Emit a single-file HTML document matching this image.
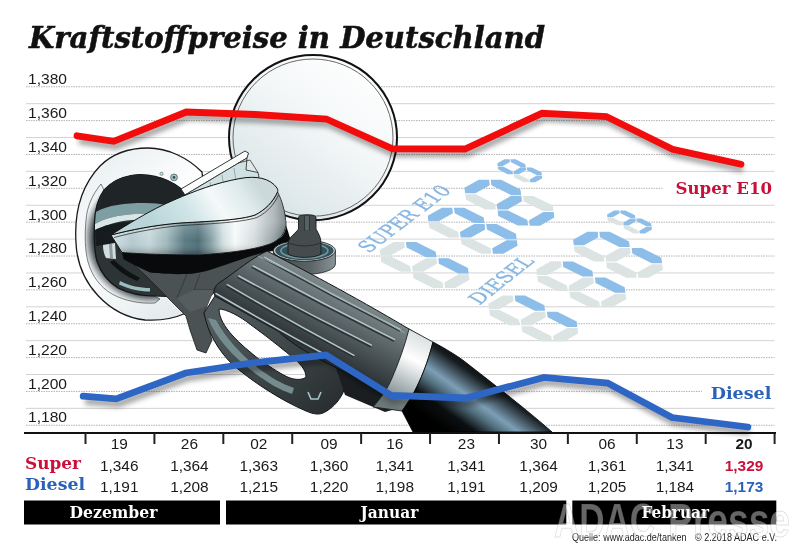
<!DOCTYPE html>
<html><head><meta charset="utf-8"><title>Kraftstoffpreise in Deutschland</title>
<style>
html,body{margin:0;padding:0;background:#fff;}
body{width:800px;height:555px;overflow:hidden;position:relative;}
svg{position:absolute;left:0;top:0;}
.num{font-family:"Liberation Sans",sans-serif;font-size:15.4px;fill:#1a1a1a;}
.slab{font-family:"DejaVu Serif","Liberation Serif",serif;font-weight:bold;}
</style></head><body>
<svg width="800" height="555" viewBox="0 0 800 555">
<defs>
<filter id="sh" x="-10%" y="-50%" width="120%" height="200%"><feGaussianBlur stdDeviation="2.5"/></filter>
</defs>
<rect width="800" height="555" fill="#fff"/>
<text x="29" y="48" font-family="DejaVu Serif, Liberation Serif, serif" font-weight="bold" font-style="italic" font-size="29" fill="#111" stroke="#111" stroke-width="0.55" textLength="516" lengthAdjust="spacingAndGlyphs">Kraftstoffpreise in Deutschland</text>
<g stroke="#c6c6c6" stroke-width="1">
<line x1="26" y1="86.76" x2="774.5" y2="86.76" stroke="#b3b3b3" stroke-dasharray="1.5,1"/>
<line x1="26" y1="103.69" x2="774.5" y2="103.69" stroke="#d3d3d3"/>
<line x1="26" y1="120.61" x2="774.5" y2="120.61" stroke="#b3b3b3" stroke-dasharray="1.5,1"/>
<line x1="26" y1="137.54" x2="774.5" y2="137.54" stroke="#d3d3d3"/>
<line x1="26" y1="154.46" x2="774.5" y2="154.46" stroke="#b3b3b3" stroke-dasharray="1.5,1"/>
<line x1="26" y1="171.39" x2="774.5" y2="171.39" stroke="#d3d3d3"/>
<line x1="26" y1="188.32" x2="774.5" y2="188.32" stroke="#b3b3b3" stroke-dasharray="1.5,1"/>
<line x1="26" y1="205.24" x2="774.5" y2="205.24" stroke="#d3d3d3"/>
<line x1="26" y1="222.17" x2="774.5" y2="222.17" stroke="#b3b3b3" stroke-dasharray="1.5,1"/>
<line x1="26" y1="239.09" x2="774.5" y2="239.09" stroke="#d3d3d3"/>
<line x1="26" y1="256.02" x2="774.5" y2="256.02" stroke="#b3b3b3" stroke-dasharray="1.5,1"/>
<line x1="26" y1="272.95" x2="774.5" y2="272.95" stroke="#d3d3d3"/>
<line x1="26" y1="289.87" x2="774.5" y2="289.87" stroke="#b3b3b3" stroke-dasharray="1.5,1"/>
<line x1="26" y1="306.8" x2="774.5" y2="306.8" stroke="#d3d3d3"/>
<line x1="26" y1="323.72" x2="774.5" y2="323.72" stroke="#b3b3b3" stroke-dasharray="1.5,1"/>
<line x1="26" y1="340.65" x2="774.5" y2="340.65" stroke="#d3d3d3"/>
<line x1="26" y1="357.58" x2="774.5" y2="357.58" stroke="#b3b3b3" stroke-dasharray="1.5,1"/>
<line x1="26" y1="374.5" x2="774.5" y2="374.5" stroke="#d3d3d3"/>
<line x1="26" y1="391.43" x2="774.5" y2="391.43" stroke="#b3b3b3" stroke-dasharray="1.5,1"/>
<line x1="26" y1="408.35" x2="774.5" y2="408.35" stroke="#d3d3d3"/>
<line x1="26" y1="425.28" x2="774.5" y2="425.28" stroke="#b3b3b3" stroke-dasharray="1.5,1"/>
</g>
<g class="num">
<text x="28" y="84.3" textLength="39" lengthAdjust="spacingAndGlyphs">1,380</text>
<text x="28" y="118.1" textLength="39" lengthAdjust="spacingAndGlyphs">1,360</text>
<text x="28" y="151.9" textLength="39" lengthAdjust="spacingAndGlyphs">1,340</text>
<text x="28" y="185.7" textLength="39" lengthAdjust="spacingAndGlyphs">1,320</text>
<text x="28" y="219.5" textLength="39" lengthAdjust="spacingAndGlyphs">1,300</text>
<text x="28" y="253.3" textLength="39" lengthAdjust="spacingAndGlyphs">1,280</text>
<text x="28" y="287.1" textLength="39" lengthAdjust="spacingAndGlyphs">1,260</text>
<text x="28" y="320.9" textLength="39" lengthAdjust="spacingAndGlyphs">1,240</text>
<text x="28" y="354.7" textLength="39" lengthAdjust="spacingAndGlyphs">1,220</text>
<text x="28" y="388.5" textLength="39" lengthAdjust="spacingAndGlyphs">1,200</text>
<text x="28" y="422.3" textLength="39" lengthAdjust="spacingAndGlyphs">1,180</text>
</g>
<rect x="663" y="178" width="113" height="21" fill="#fff"/><text class="slab" x="675.5" y="194.3" font-size="17" fill="#c8103a" textLength="96.5" lengthAdjust="spacingAndGlyphs">Super E10</text><rect x="702" y="381" width="74" height="21" fill="#fff"/><text class="slab" x="710.7" y="398.8" font-size="17" fill="#2a62b8" textLength="60.7" lengthAdjust="spacingAndGlyphs">Diesel</text>
<g id="illu">
<polygon points="380.36,255.56 379.7,250.06 393.92,241.94 404.24,241.94 404.9,247.44 390.68,255.56" fill="#dbe4e3"/>
<polygon points="412.66,271.76 412,266.26 426.22,258.14 436.54,258.13 437.2,263.64 422.98,271.76" fill="#dbe4e3"/>
<polygon points="444.96,287.96 444.3,282.46 458.52,274.34 468.84,274.33 469.5,279.84 455.28,287.96" fill="#dbe4e3"/>
<polygon points="380.57,256.49 390.89,256.49 410.27,266.2 410.93,271.71 400.61,271.71 381.23,262" fill="#dbe4e3"/>
<polygon points="405.97,241.99 416.29,241.99 435.67,251.71 436.33,257.21 426.01,257.21 406.63,247.5" fill="#8dbde9"/>
<polygon points="412.87,272.69 423.19,272.69 442.57,282.41 443.23,287.91 432.91,287.92 413.53,278.19" fill="#dbe4e3"/>
<polygon points="438.27,258.19 448.59,258.19 467.97,267.91 468.63,273.41 458.31,273.42 438.93,263.69" fill="#8dbde9"/>
<polygon points="428.36,221.37 427.7,215.86 441.92,207.74 452.24,207.74 452.9,213.24 438.68,221.36" fill="#8dbde9"/>
<polygon points="460.66,237.56 460,232.06 474.22,223.94 484.54,223.94 485.2,229.44 470.98,237.56" fill="#8dbde9"/>
<polygon points="492.96,253.77 492.3,248.26 506.52,240.14 516.84,240.14 517.5,245.64 503.28,253.76" fill="#8dbde9"/>
<polygon points="428.57,222.29 438.89,222.29 458.27,232.01 458.93,237.51 448.61,237.52 429.23,227.8" fill="#dbe4e3"/>
<polygon points="453.97,207.79 464.29,207.79 483.67,217.51 484.33,223.01 474.01,223.02 454.63,213.3" fill="#8dbde9"/>
<polygon points="460.87,238.49 471.19,238.49 490.57,248.21 491.23,253.71 480.91,253.72 461.53,244" fill="#dbe4e3"/>
<polygon points="486.27,223.99 496.59,223.99 515.97,233.71 516.63,239.21 506.31,239.22 486.93,229.5" fill="#8dbde9"/>
<polygon points="465.16,193.26 464.5,187.76 478.72,179.64 489.04,179.63 489.7,185.14 475.48,193.26" fill="#8dbde9"/>
<polygon points="497.46,209.46 496.8,203.96 511.02,195.84 521.34,195.83 522,201.34 507.78,209.46" fill="#8dbde9"/>
<polygon points="529.76,225.66 529.1,220.16 543.32,212.04 553.64,212.03 554.3,217.54 540.08,225.66" fill="#8dbde9"/>
<polygon points="465.37,194.19 475.69,194.19 495.07,203.91 495.73,209.41 485.41,209.41 466.03,199.69" fill="#dbe4e3"/>
<polygon points="490.77,179.69 501.09,179.69 520.47,189.41 521.13,194.91 510.81,194.91 491.43,185.19" fill="#8dbde9"/>
<polygon points="497.67,210.39 507.99,210.38 527.37,220.1 528.03,225.61 517.71,225.61 498.33,215.89" fill="#8dbde9"/>
<polygon points="523.07,195.89 533.39,195.88 552.77,205.6 553.43,211.11 543.11,211.11 523.73,201.39" fill="#dbe4e3"/>
<polygon points="497.68,166.08 497.35,163.33 504.46,159.27 509.62,159.27 509.95,162.02 502.84,166.08" fill="#8dbde9"/>
<polygon points="513.83,174.18 513.5,171.43 520.61,167.37 525.77,167.37 526.1,170.12 518.99,174.18" fill="#8dbde9"/>
<polygon points="529.98,182.28 529.65,179.53 536.76,175.47 541.92,175.47 542.25,178.22 535.14,182.28" fill="#8dbde9"/>
<polygon points="497.78,166.54 502.94,166.54 512.63,171.4 512.97,174.16 507.81,174.16 498.12,169.3" fill="#8dbde9"/>
<polygon points="510.48,159.29 515.64,159.29 525.33,164.15 525.67,166.91 520.51,166.91 510.82,162.05" fill="#8dbde9"/>
<polygon points="513.93,174.64 519.09,174.64 528.78,179.5 529.12,182.26 523.96,182.26 514.27,177.4" fill="#dbe4e3"/>
<polygon points="526.63,167.39 531.79,167.39 541.48,172.25 541.82,175.01 536.66,175.01 526.97,170.15" fill="#8dbde9"/>
<polygon points="489.06,309.17 488.4,303.66 502.62,295.54 512.94,295.54 513.6,301.04 499.38,309.16" fill="#dbe4e3"/>
<polygon points="521.36,325.37 520.7,319.86 534.92,311.74 545.24,311.74 545.9,317.24 531.68,325.36" fill="#dbe4e3"/>
<polygon points="553.66,341.56 553,336.06 567.22,327.94 577.54,327.94 578.2,333.44 563.98,341.56" fill="#dbe4e3"/>
<polygon points="489.27,310.09 499.59,310.09 518.97,319.81 519.63,325.31 509.31,325.31 489.93,315.6" fill="#dbe4e3"/>
<polygon points="514.67,295.59 524.99,295.59 544.37,305.31 545.03,310.81 534.71,310.81 515.33,301.1" fill="#8dbde9"/>
<polygon points="521.57,326.29 531.89,326.29 551.27,336.01 551.93,341.51 541.61,341.52 522.23,331.8" fill="#dbe4e3"/>
<polygon points="546.97,311.79 557.29,311.79 576.67,321.51 577.33,327.01 567.01,327.02 547.63,317.3" fill="#8dbde9"/>
<polygon points="537.06,274.96 536.4,269.46 550.62,261.34 560.94,261.33 561.6,266.84 547.38,274.96" fill="#dbe4e3"/>
<polygon points="569.36,291.16 568.7,285.66 582.92,277.54 593.24,277.53 593.9,283.04 579.68,291.16" fill="#dbe4e3"/>
<polygon points="601.66,307.36 601,301.86 615.22,293.74 625.54,293.73 626.2,299.24 611.98,307.36" fill="#dbe4e3"/>
<polygon points="537.27,275.89 547.59,275.88 566.97,285.6 567.63,291.11 557.31,291.11 537.93,281.39" fill="#dbe4e3"/>
<polygon points="562.67,261.39 572.99,261.38 592.37,271.1 593.03,276.61 582.71,276.61 563.33,266.89" fill="#8dbde9"/>
<polygon points="569.57,292.09 579.89,292.08 599.27,301.81 599.93,307.31 589.61,307.31 570.23,297.59" fill="#dbe4e3"/>
<polygon points="594.97,277.59 605.29,277.58 624.67,287.31 625.33,292.81 615.01,292.81 595.63,283.09" fill="#8dbde9"/>
<polygon points="573.76,245.37 573.1,239.86 587.32,231.74 597.64,231.74 598.3,237.24 584.08,245.36" fill="#8dbde9"/>
<polygon points="606.06,261.56 605.4,256.06 619.62,247.94 629.94,247.94 630.6,253.44 616.38,261.56" fill="#dbe4e3"/>
<polygon points="638.36,277.76 637.7,272.26 651.92,264.14 662.24,264.13 662.9,269.64 648.68,277.76" fill="#dbe4e3"/>
<polygon points="573.97,246.29 584.29,246.29 603.67,256 604.33,261.51 594.01,261.51 574.63,251.8" fill="#dbe4e3"/>
<polygon points="599.37,231.79 609.69,231.79 629.07,241.51 629.73,247.01 619.41,247.02 600.03,237.3" fill="#8dbde9"/>
<polygon points="606.27,262.49 616.59,262.49 635.97,272.21 636.63,277.71 626.31,277.72 606.93,268" fill="#dbe4e3"/>
<polygon points="631.67,247.99 641.99,247.99 661.37,257.71 662.03,263.21 651.71,263.22 632.33,253.5" fill="#8dbde9"/>
<polygon points="607.38,217.28 607.05,214.53 614.16,210.47 619.32,210.47 619.65,213.22 612.54,217.28" fill="#8dbde9"/>
<polygon points="623.53,225.38 623.2,222.63 630.31,218.57 635.47,218.57 635.8,221.32 628.69,225.38" fill="#8dbde9"/>
<polygon points="639.68,233.48 639.35,230.73 646.46,226.67 651.62,226.67 651.95,229.42 644.84,233.48" fill="#8dbde9"/>
<polygon points="607.48,217.74 612.64,217.74 622.33,222.6 622.67,225.36 617.51,225.36 607.82,220.5" fill="#dbe4e3"/>
<polygon points="620.18,210.49 625.34,210.49 635.03,215.35 635.37,218.11 630.21,218.11 620.52,213.25" fill="#8dbde9"/>
<polygon points="623.63,225.84 628.79,225.84 638.48,230.7 638.82,233.46 633.66,233.46 623.97,228.6" fill="#dbe4e3"/>
<polygon points="636.33,218.59 641.49,218.59 651.18,223.45 651.52,226.21 646.36,226.21 636.67,221.35" fill="#8dbde9"/>
<text transform="matrix(0.8 -0.6 0.87 0.49 369 253.5)" font-family="DejaVu Serif, Liberation Serif, serif" font-size="21" fill="#86b6e2" stroke="#86b6e2" stroke-width="0.35" textLength="104" lengthAdjust="spacingAndGlyphs">SUPER E10</text>
<text transform="matrix(0.785 -0.619 0.87 0.49 479.5 305.5)" font-family="DejaVu Serif, Liberation Serif, serif" font-size="20.5" fill="#86b6e2" stroke="#86b6e2" stroke-width="0.35" textLength="71" lengthAdjust="spacingAndGlyphs">DIESEL</text>
<defs>
<linearGradient id="gDoor" x1="0.85" y1="0.05" x2="0.15" y2="0.95">
<stop offset="0" stop-color="#ffffff"/><stop offset="0.4" stop-color="#f4f7f8"/><stop offset="1" stop-color="#d6e2e5"/></linearGradient>
<linearGradient id="gRing" x1="0.2" y1="0" x2="0.8" y2="1">
<stop offset="0" stop-color="#e9eff1"/><stop offset="0.45" stop-color="#ffffff"/><stop offset="1" stop-color="#dfe8ea"/></linearGradient>
<linearGradient id="gBand" gradientUnits="userSpaceOnUse" x1="111" y1="0" x2="286" y2="0"><stop offset="0" stop-color="#d3e3e6"/><stop offset="0.12" stop-color="#b4cacf"/><stop offset="0.22" stop-color="#c6d8db"/><stop offset="0.32" stop-color="#9fb8bd"/><stop offset="0.42" stop-color="#5b7b84"/><stop offset="0.5" stop-color="#4e6e77"/><stop offset="0.57" stop-color="#86a0a6"/><stop offset="0.64" stop-color="#d2dfe1"/><stop offset="0.71" stop-color="#f6f9f9"/><stop offset="0.82" stop-color="#d5dcde"/><stop offset="0.93" stop-color="#97a3a6"/><stop offset="1" stop-color="#5a666a"/></linearGradient>
<linearGradient id="gBandV" gradientUnits="userSpaceOnUse" x1="0" y1="222" x2="0" y2="253">
<stop offset="0" stop-color="#fff" stop-opacity="0.25"/><stop offset="0.6" stop-color="#fff" stop-opacity="0"/><stop offset="1" stop-color="#000" stop-opacity="0.22"/></linearGradient>
<linearGradient id="gTop" gradientUnits="userSpaceOnUse" x1="160" y1="235" x2="250" y2="175">
<stop offset="0" stop-color="#b9d5d9"/><stop offset="0.35" stop-color="#d1e5e8"/><stop offset="0.6" stop-color="#f4f9f9"/><stop offset="0.85" stop-color="#deeaec"/><stop offset="1" stop-color="#cbd9db"/></linearGradient>
<linearGradient id="gGrip" gradientUnits="userSpaceOnUse" x1="300" y1="268" x2="270" y2="325">
<stop offset="0" stop-color="#7e898b"/><stop offset="0.3" stop-color="#667173"/><stop offset="0.65" stop-color="#4a5355"/><stop offset="1" stop-color="#30373a"/></linearGradient>
<linearGradient id="gHose" gradientUnits="userSpaceOnUse" x1="478" y1="352" x2="430" y2="420">
<stop offset="0" stop-color="#000"/><stop offset="0.25" stop-color="#161b1e"/><stop offset="0.5" stop-color="#7d9fb6"/><stop offset="0.62" stop-color="#53707f"/><stop offset="0.8" stop-color="#0c0f11"/><stop offset="1" stop-color="#000"/></linearGradient>
<linearGradient id="gCollar" gradientUnits="userSpaceOnUse" x1="425" y1="335" x2="390" y2="405">
<stop offset="0" stop-color="#d8dede"/><stop offset="0.35" stop-color="#ffffff"/><stop offset="0.7" stop-color="#aab6b8"/><stop offset="1" stop-color="#6b7779"/></linearGradient>
<linearGradient id="gGuard" gradientUnits="userSpaceOnUse" x1="230" y1="310" x2="320" y2="415">
<stop offset="0" stop-color="#505a5c"/><stop offset="1" stop-color="#2a3032"/></linearGradient>
<radialGradient id="gRim" gradientUnits="userSpaceOnUse" cx="150" cy="238" r="67">
<stop offset="0.84" stop-color="#3a4042"/><stop offset="0.9" stop-color="#80878a"/><stop offset="0.96" stop-color="#c9cfd1"/><stop offset="1" stop-color="#eef2f2"/></radialGradient>
<linearGradient id="gWasher" gradientUnits="userSpaceOnUse" x1="272" y1="0" x2="337" y2="0"><stop offset="0" stop-color="#3f4749"/><stop offset="0.6" stop-color="#5b6466"/><stop offset="1" stop-color="#8d989a"/></linearGradient>
</defs>
<!-- fuel door -->
<ellipse cx="313" cy="137.6" rx="84" ry="82.6" fill="url(#gDoor)" stroke="#111" stroke-width="2"/>
<ellipse cx="313" cy="137.6" rx="80" ry="78.6" fill="none" stroke="#444" stroke-width="0.8"/>
<!-- filler ring -->
<path d="M76,243 C74,212 82,185 100,166 C113,153 130,148 148,148 C168,148 188,158 202,172 L215,290 C200,310 175,322 145,320 C110,316 78,285 76,243 Z" fill="url(#gRing)" stroke="#1a1a1a" stroke-width="1.3"/>
<path d="M101,184 C92,195 87,207 86,220 C84.5,236 85,250 88,262 C92,276 100,287 112,294 C125,301 140,304 155,303 L160,299 L155,296 C142,296 130,294 118,288 C108,282 101,273 97,261 C94,250 94,236 94.5,222 C95,210 97,200 104,190 Z" fill="url(#gRim)" stroke="#2a2f30" stroke-width="0.6"/>
<path d="M104,190 C112,181 122,177 131,175.5 C145,173 165,176 180,188 C190,196 200,201 210,205 L212,288 C195,296 172,297 155,296 C142,296 130,294 118,288 C108,282 101,273 97,261 C94,250 94,236 94.5,222 C95,210 97,200 104,190 Z" fill="#2d3436" stroke="#121516" stroke-width="1.2"/>
<path d="M104,190 C112,181 122,177 131,175.5 C145,173 165,176 180,188 C190,196 200,201 210,205 L210,216 C195,208 170,203 145,203 C125,203 108,205 96,212 Z" fill="#1f2527"/>
<path d="M96,212 C108,205 125,203 145,203 C160,203 175,206 185,210 L185,218 C170,214 150,213 135,214 C118,215 105,218 95,224 Z" fill="#7d9ea3"/>
<path d="M95,224 C105,218 118,215 135,214 C150,213 165,215 175,218 L172,222 C160,219 145,219 132,220 C118,221 106,225 95,230 Z" fill="#d8e6e8"/>
<path d="M95,230 C105,225 118,222 130,222 L125,240 L115,243 L96,246 Z" fill="#161b1d"/>
<path d="M103,245 L115,243 L116,259 L106,258 C104,254 103,250 103,245 Z" fill="#d3dde0"/>
<path d="M109,244 L112,244 L113,258 L110,258 Z" fill="#8a9ea2"/>
<path d="M110,262 C117,270 127,277 137,281 L140,278 C130,273 121,267 114,260 Z" fill="#0e1213"/>
<path d="M120,281 C130,286 140,288 150,288 L150,291.5 C139,291.5 129,289 119,284.5 Z" fill="#9dbcc0"/>
<circle cx="161.5" cy="173.8" r="1.6" fill="#cfe0e2" stroke="#4a5a5c" stroke-width="0.6"/>
<circle cx="174" cy="177.4" r="3.4" fill="#a9c6cc" stroke="#3a5054" stroke-width="0.7"/>
<circle cx="174" cy="177.4" r="1.3" fill="#2f4a50"/>
<!-- hinge bracket -->
<path d="M181,189 L245,151 L248.5,153 L247,158 L185,195 Z" fill="#fbfdfd" stroke="#222" stroke-width="0.9"/>
<path d="M185,195 L247,158 L246,170 L258,172.5 L259,177 L252,180 L189,206 Z" fill="#cfe1e3" stroke="#222" stroke-width="0.8"/>
<path d="M238,163 L250,160 L258,172.5" fill="none" stroke="#222" stroke-width="0.7"/>
<g stroke="#6f8587" stroke-width="0.6"><line x1="197" y1="190" x2="199" y2="200"/><line x1="210" y1="182" x2="212" y2="193"/><line x1="222" y1="175" x2="224" y2="187"/><line x1="234" y1="168" x2="236" y2="181"/></g>
<!-- nozzle body (dark, under hood) -->
<path d="M118,250 L290,238 L296,250 L267,251 L226,279 L211,296 L204,313 L212,340 L206,353 L197,350 L190,330 L186,316 L146,276 Z" fill="#4b5254" stroke="#1a1a1a" stroke-width="0.8"/>
<path d="M187,274 L177,298 M200,274 L194,290 L214,290" fill="none" stroke="#2a2f30" stroke-width="0.7"/>
<path d="M177,298 L194,290 L214,290 L207,306 L190,312 Z" fill="#555d5f"/>
<!-- trigger guard -->
<path fill-rule="evenodd" fill="url(#gGuard)" stroke="#141819" stroke-width="1" d="M204,313 C208,333 218,350 232,364 C250,380 280,400 306,411 C313,414 318,415 323,413 C334,408 342,398 346,385 L352,362 L278,331 L215,296 Z M219,309 C226,309 240,316 251,325 C265,335 280,347 291,356 C300,363 306,370 306,377 C303,380 296,380 290,378 C282,375 272,368 260,360 C250,352 240,344 232,335 C225,327 219,318 219,309 Z"/>
<path d="M208,318 C216,338 232,356 256,374 C268,383 280,390 292,394 L294,388 C282,384 270,377 258,368 C240,354 226,338 216,320 Z" fill="#758c8f"/>
<path d="M308,392 L311,399 L318,399 L321,392" fill="none" stroke="#a9c3c7" stroke-width="1.6"/>
<!-- dark underside between grip and hose -->
<path d="M330,350 L400,380 L410,405 L385,412 L345,395 Z" fill="#1a1e20"/>
<!-- hood -->
<path d="M122,252.5 C140,254 170,255 200,255 C225,253 250,251 270,244 C280,240 286,234 286,225 L291,241 C287,246 282,248 276,250 C268,252 262,253 258,254 C245,258 235,262 225,265 C210,270 200,273.5 187.5,274 C170,274.5 158,273.5 150,272.5 C140,268 130,263 123.5,259 Z" fill="#080a0b"/>
<path d="M111,235 C130,230 155,225 180,223 C215,221 240,220 255,215 C265,210 273,202 277.5,192 C282,200 285.5,213 286,225 C284.5,234 280,240 270,244 C250,251 225,253 200,255 C170,255 140,254 122,252.5 Z" fill="url(#gBand)" stroke="#111" stroke-width="0.9"/>
<path d="M111,235 C130,230 155,225 180,223 C215,221 240,220 255,215 C265,210 273,202 277.5,192 C282,200 285.5,213 286,225 C284.5,234 280,240 270,244 C250,251 225,253 200,255 C170,255 140,254 122,252.5 Z" fill="url(#gBandV)"/>
<path d="M111,235 C125,226 150,210 175,199.5 C195,191 215,183 240,178.5 C256,175.5 270,178 277,188 C278,190 278,191 277.5,192 C273,202 265,210 255,215 C240,220 215,221 180,223 C155,225 130,230 111,235 Z" fill="url(#gTop)" stroke="#111" stroke-width="1"/>
<path d="M114,237.5 C135,232 158,227.5 182,225.5 C215,223.5 240,222.5 257,217.5 C268,212 275,203 278.5,195" fill="none" stroke="#1a1a1a" stroke-width="0.7"/>
<!-- valve cap -->
<path d="M273.4,250.7 L273.4,264 A31,10.5 0 0 0 335.4,264 L335.4,250.7 Z" fill="url(#gWasher)" stroke="#1e2222" stroke-width="0.8"/>
<ellipse cx="304.4" cy="250.7" rx="31" ry="10.5" fill="#cfdadc" stroke="#1a1a1a" stroke-width="0.9"/>
<ellipse cx="304.4" cy="250.7" rx="29.3" ry="9.4" fill="#34525a"/>
<ellipse cx="304.4" cy="250.7" rx="23.5" ry="7.3" fill="none" stroke="#6f97a0" stroke-width="1.6"/>
<path d="M288,254 L288,243 C289,237 296,233 298.5,229 L298.5,218 C298.5,215.5 301,214.8 307,214.8 C313,214.8 316,215.5 316,218 L316,229 C318,233 321,237 321,243 L321,254 C315,258.5 294,258.5 288,254 Z" fill="#444c4e" stroke="#1a1a1a" stroke-width="0.9"/>
<path d="M288,243 Q304.6,249 321,243" fill="none" stroke="#222" stroke-width="0.7"/>
<path d="M304.5,216 L304.5,231 M309.5,216 L309.5,231" stroke="#2c3234" stroke-width="0.9"/><path d="M305,216 L309,216 L309,230 L305,230 Z" fill="#556062"/>
<!-- grip -->
<path d="M267,251 C300,268 350,294 409,329 L422,337 L396,401 L380,388 C340,370 300,352 278,331 L215,296 C212,290 216,284 222,281 C238,270 252,258 267,251 Z" fill="url(#gGrip)" stroke="#121516" stroke-width="1"/>
<g fill="none" stroke="#262c2e" stroke-width="1.6" stroke-linecap="round" opacity="0.85"><path d="M264.0,258.9 Q330.7,295.9 399.4,330.9"/><path d="M252.4,267.6 Q322.0,305.3 393.6,341.0"/><path d="M238.0,277.6 Q303.3,313.2 370.6,346.8"/><path d="M226.5,286.3 Q288.8,322.6 353.2,356.9"/><path d="M215.2,295.1 Q274.7,329.9 336.2,362.6"/></g>
<g fill="none" stroke="#b2c5c8" stroke-width="1.5" stroke-linecap="round"><path d="M264.8,257.3 Q331.5,294.3 400.2,329.3"/><path d="M253.2,266.0 Q322.8,303.7 394.4,339.4"/><path d="M238.8,276.0 Q304.1,311.6 371.4,345.2"/><path d="M227.3,284.7 Q289.6,321.0 354.0,355.3"/><path d="M216.0,293.5 Q275.5,328.2 337.0,361.0"/></g>
<path d="M258,256 C300,276 350,302 405,333" fill="none" stroke="#98a6a8" stroke-width="1"/>
<!-- collar -->
<path d="M409,329 L433,342 C428,362 421,380 412,396 L402,411 L373,407 C381,398 388,388 392,378 C399,362 405,345 409,329 Z" fill="url(#gCollar)" stroke="#1e2222" stroke-width="0.9"/>
<!-- hose -->
<path d="M433,342 C446,349 456,355 464,361 C496,386 526,409 552,432 L413,432 L402,411 C414,396 426,370 433,342 Z" fill="url(#gHose)" stroke="#000" stroke-width="0.8"/>

</g>
<polyline points="77,135.8 113.8,141.3 186.3,112 255,114.5 326.3,119 392.5,148.8 465,149 542,113.3 606.3,116.5 672.5,149.3 741,164.3" fill="none" stroke="#000" stroke-opacity="0.35" stroke-width="7" stroke-linejoin="miter" filter="url(#sh)" transform="translate(2,5)"/><polyline points="83.2,396.2 116.2,398.9 185.6,373 255,362.5 326,355 391,395.4 466,398 544,377.4 607.7,383 671.9,417.5 747.8,427" fill="none" stroke="#000" stroke-opacity="0.35" stroke-width="7" filter="url(#sh)" transform="translate(2,5)"/><polyline points="77,135.8 113.8,141.3 186.3,112 255,114.5 326.3,119 392.5,148.8 465,149 542,113.3 606.3,116.5 672.5,149.3 741,164.3" fill="none" stroke="#f20c0c" stroke-width="6.8" stroke-linejoin="miter" stroke-linecap="round"/><polyline points="83.2,396.2 116.2,398.9 185.6,373 255,362.5 326,355 391,395.4 466,398 544,377.4 607.7,383 671.9,417.5 747.8,427" fill="none" stroke="#2d66c4" stroke-width="6.8" stroke-linejoin="miter" stroke-linecap="round"/>
<line x1="24" y1="433" x2="776" y2="433" stroke="#111" stroke-width="2.2"/>
<line x1="85.5" y1="433" x2="85.5" y2="444" stroke="#222" stroke-width="2"/>
<line x1="154.41" y1="433" x2="154.41" y2="444" stroke="#222" stroke-width="2"/>
<line x1="223.32" y1="433" x2="223.32" y2="444" stroke="#222" stroke-width="2"/>
<line x1="292.23" y1="433" x2="292.23" y2="444" stroke="#222" stroke-width="2"/>
<line x1="361.14" y1="433" x2="361.14" y2="444" stroke="#222" stroke-width="2"/>
<line x1="430.05" y1="433" x2="430.05" y2="444" stroke="#222" stroke-width="2"/>
<line x1="498.96" y1="433" x2="498.96" y2="444" stroke="#222" stroke-width="2"/>
<line x1="567.87" y1="433" x2="567.87" y2="444" stroke="#222" stroke-width="2"/>
<line x1="636.78" y1="433" x2="636.78" y2="444" stroke="#222" stroke-width="2"/>
<line x1="705.69" y1="433" x2="705.69" y2="444" stroke="#222" stroke-width="2"/>
<line x1="774.6" y1="433" x2="774.6" y2="444" stroke="#222" stroke-width="2"/>
<text class="num" x="119.2" y="448.7" text-anchor="middle" font-weight="normal" fill="#111">19</text>
<text class="num" x="119.2" y="471.3" text-anchor="middle" font-weight="normal" style="fill:#1a1a1a">1,346</text>
<text class="num" x="119.2" y="491.6" text-anchor="middle" font-weight="normal" style="fill:#1a1a1a">1,191</text>
<text class="num" x="189.4" y="448.7" text-anchor="middle" font-weight="normal" fill="#111">26</text>
<text class="num" x="189.4" y="471.3" text-anchor="middle" font-weight="normal" style="fill:#1a1a1a">1,364</text>
<text class="num" x="189.4" y="491.6" text-anchor="middle" font-weight="normal" style="fill:#1a1a1a">1,208</text>
<text class="num" x="258.7" y="448.7" text-anchor="middle" font-weight="normal" fill="#111">02</text>
<text class="num" x="258.7" y="471.3" text-anchor="middle" font-weight="normal" style="fill:#1a1a1a">1,363</text>
<text class="num" x="258.7" y="491.6" text-anchor="middle" font-weight="normal" style="fill:#1a1a1a">1,215</text>
<text class="num" x="329.1" y="448.7" text-anchor="middle" font-weight="normal" fill="#111">09</text>
<text class="num" x="329.1" y="471.3" text-anchor="middle" font-weight="normal" style="fill:#1a1a1a">1,360</text>
<text class="num" x="329.1" y="491.6" text-anchor="middle" font-weight="normal" style="fill:#1a1a1a">1,220</text>
<text class="num" x="394.7" y="448.7" text-anchor="middle" font-weight="normal" fill="#111">16</text>
<text class="num" x="394.7" y="471.3" text-anchor="middle" font-weight="normal" style="fill:#1a1a1a">1,341</text>
<text class="num" x="394.7" y="491.6" text-anchor="middle" font-weight="normal" style="fill:#1a1a1a">1,198</text>
<text class="num" x="466.4" y="448.7" text-anchor="middle" font-weight="normal" fill="#111">23</text>
<text class="num" x="466.4" y="471.3" text-anchor="middle" font-weight="normal" style="fill:#1a1a1a">1,341</text>
<text class="num" x="466.4" y="491.6" text-anchor="middle" font-weight="normal" style="fill:#1a1a1a">1,191</text>
<text class="num" x="538.6" y="448.7" text-anchor="middle" font-weight="normal" fill="#111">30</text>
<text class="num" x="538.6" y="471.3" text-anchor="middle" font-weight="normal" style="fill:#1a1a1a">1,364</text>
<text class="num" x="538.6" y="491.6" text-anchor="middle" font-weight="normal" style="fill:#1a1a1a">1,209</text>
<text class="num" x="607" y="448.7" text-anchor="middle" font-weight="normal" fill="#111">06</text>
<text class="num" x="607" y="471.3" text-anchor="middle" font-weight="normal" style="fill:#1a1a1a">1,361</text>
<text class="num" x="607" y="491.6" text-anchor="middle" font-weight="normal" style="fill:#1a1a1a">1,205</text>
<text class="num" x="674.9" y="448.7" text-anchor="middle" font-weight="normal" fill="#111">13</text>
<text class="num" x="674.9" y="471.3" text-anchor="middle" font-weight="normal" style="fill:#1a1a1a">1,341</text>
<text class="num" x="674.9" y="491.6" text-anchor="middle" font-weight="normal" style="fill:#1a1a1a">1,184</text>
<text class="num" x="744" y="448.7" text-anchor="middle" font-weight="bold" fill="#111">20</text>
<text class="num" x="744" y="471.3" text-anchor="middle" font-weight="bold" style="fill:#c8103a">1,329</text>
<text class="num" x="744" y="491.6" text-anchor="middle" font-weight="bold" style="fill:#2a62b8">1,173</text>
<text class="slab" x="25" y="468.8" font-size="17" fill="#c8103a" textLength="56" lengthAdjust="spacingAndGlyphs">Super</text>
<text class="slab" x="25" y="490" font-size="17" fill="#2a62b8" textLength="60" lengthAdjust="spacingAndGlyphs">Diesel</text>
<rect x="24" y="500.5" width="196" height="24" fill="#000"/>
<rect x="226" y="500.5" width="340.3" height="24" fill="#000"/>
<rect x="572.3" y="500.5" width="204" height="24" fill="#000"/>
<text class="slab" x="69.5" y="518.4" font-size="17" fill="#fff" textLength="88" lengthAdjust="spacingAndGlyphs">Dezember</text>
<text class="slab" x="360.5" y="518.4" font-size="17" fill="#fff" textLength="57.8" lengthAdjust="spacingAndGlyphs">Januar</text>
<text class="slab" x="641.4" y="518.4" font-size="17" fill="#fff" textLength="67.6" lengthAdjust="spacingAndGlyphs">Februar</text>
<text x="572" y="540.8" font-family="Liberation Sans, sans-serif" font-size="10.5" fill="#222" textLength="114.5" lengthAdjust="spacingAndGlyphs">Quelle: www.adac.de/tanken</text>
<text x="695" y="540.8" font-family="Liberation Sans, sans-serif" font-size="10.5" fill="#222" textLength="82" lengthAdjust="spacingAndGlyphs">© 2.2018  ADAC e.V.</text>
<g font-family="Liberation Sans, sans-serif" font-weight="bold" font-size="47.5" fill="#fff" fill-opacity="0.4" stroke="#000" stroke-opacity="0.13" stroke-width="1"><text x="554" y="537" textLength="101" lengthAdjust="spacingAndGlyphs">ADAC</text><text x="668" y="537" textLength="122" lengthAdjust="spacingAndGlyphs">Presse</text></g>
</svg>
</body></html>
